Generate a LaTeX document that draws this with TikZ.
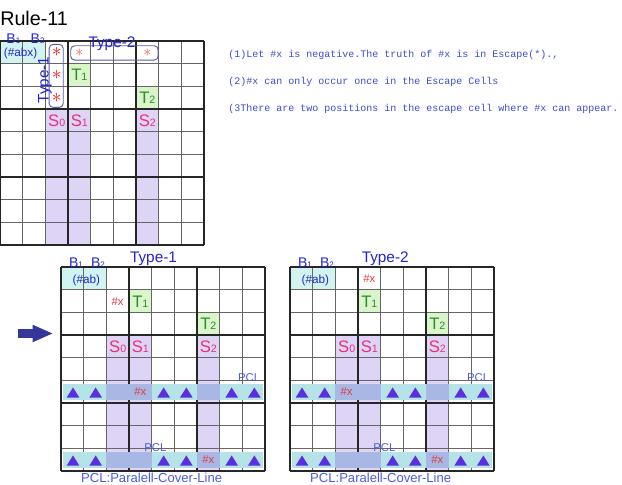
\documentclass[tikz,border=0pt]{standalone}
\usepackage{fontspec}
\setmainfont{Liberation Sans}
\newfontfamily\monofont{Liberation Mono}
\usetikzlibrary{arrows.meta}

\definecolor{bcyan}{HTML}{D2F4F0}
\definecolor{tgreen}{HTML}{D8F6CA}
\definecolor{tgreentext}{HTML}{2E8B2E}
\definecolor{spurple}{HTML}{DED4F5}
\definecolor{spink}{HTML}{E8317A}
\definecolor{bandcyan}{HTML}{B6E3E7}
\definecolor{bandblue}{HTML}{A8B7E4}
\definecolor{trviolet}{HTML}{5B2FE0}
\definecolor{xred}{HTML}{E03C3C}
\definecolor{pclblue}{HTML}{4A5CE0}
\definecolor{typeblue}{HTML}{2424D0}
\definecolor{boxblue}{HTML}{5A5AA8}
\definecolor{ruleblue}{HTML}{3A4CD0}
\definecolor{arrowblue}{HTML}{35359B}
\definecolor{starred}{HTML}{FF1010}
\definecolor{starpink}{HTML}{F05A5A}

\tikzset{
  cellgrid/.style={black!60, line width=0.75pt},
  blockgrid/.style={black!85, line width=1.4pt},
  bcell/.style={fill=bcyan},
  tcell/.style={fill=tgreen},
  scol/.style={fill=spurple},
  pclband/.style={fill=bandcyan},
  pclover/.style={fill=bandblue},
  tri/.style={fill=trviolet},
  slab/.style={text=spink, inner sep=0pt, font=\fontsize{12.5}{13}\selectfont},
  tlab/.style={text=tgreentext, inner sep=0pt, font=\fontsize{12.5}{13}\selectfont},
  blab/.style={text=typeblue, inner sep=0pt, font=\fontsize{10.5}{11}\selectfont},
  ablab/.style={text=typeblue, inner sep=0pt, font=\fontsize{8.8}{9}\selectfont},
  xlab/.style={text=xred, inner sep=0pt, font=\fontsize{8.5}{9}\selectfont},
  pcllab/.style={text=pclblue, inner sep=0pt, font=\fontsize{8.5}{9}\selectfont},
  pclnote/.style={text=pclblue, inner sep=0pt, font=\fontsize{9.8}{10}\selectfont},
  typelab/.style={text=typeblue, inner sep=0pt, font=\fontsize{11.5}{12}\selectfont},
  typebox/.style={draw=boxblue, rounded corners=3pt, line width=0.7pt},
  redstar/.style={text=starred, inner sep=0pt, font=\fontsize{14}{14}\selectfont},
  pinkstar/.style={text=starpink, inner sep=0pt, font=\fontsize{13}{13}\selectfont},
  ruletext/.style={anchor=west, inner sep=0pt, text=ruleblue, font=\monofont\fontsize{7.5}{8}\selectfont},
  bigarrow/.style={arrowblue, line width=6.2pt, -{Triangle[length=15.5pt, width=11.8pt]}}
}

% letter with a small index
\newcommand{\idx}[3]{#1{\fontsize{#3}{#3}\selectfont #2}}

% 9x9 grid, blocks of 3
\newcommand{\drawgrid}{%
  \foreach \k in {0,...,9} {
    \draw[cellgrid] (\k,0) -- (\k,9);
    \draw[cellgrid] (0,\k) -- (9,\k);
  }
  \foreach \k in {0,3,6,9} {
    \draw[blockgrid] (\k,0) -- (\k,9);
    \draw[blockgrid] (0,\k) -- (9,\k);
  }
}

% lower grids: cells, lines, PCL bands and labels
\newcommand{\pclgrid}[1]{%
  \fill[bcell] (0,0) rectangle (2,1);
  \fill[tcell] (3,1) rectangle (4,2);
  \fill[tcell] (6,2) rectangle (7,3);
  \fill[scol] (2,3) rectangle (4,9);
  \fill[scol] (6,3) rectangle (7,9);
  \drawgrid
  \foreach \r in {5,8} {
    \fill[pclband] (0.08,\r+0.16) rectangle (8.92,\r+0.84);
    \fill[pclover] (2,\r+0.16) rectangle (4,\r+0.84);
    \fill[pclover] (6,\r+0.16) rectangle (7,\r+0.84);
    \foreach \c in {0,1,4,5,7,8}
      \fill[tri] (\c+0.25,\r+0.75) -- (\c+0.81,\r+0.75) -- (\c+0.53,\r+0.3) -- cycle;
  }
  \node[blab] (#1B1) at (0.66,-0.19) {\idx{B}{1}{6}};
  \node[blab] (#1B2) at (1.63,-0.19) {\idx{B}{2}{6}};
  \node[ablab] (#1ab) at (1.12,0.6) {(\#ab)};
  \node[tlab] (#1T1) at (3.5,1.5) {\idx{T}{1}{8}};
  \node[tlab] (#1T2) at (6.5,2.5) {\idx{T}{2}{8}};
  \node[slab] (#1S0) at (2.5,3.5) {\idx{S}{0}{8}};
  \node[slab] (#1S1) at (3.5,3.5) {\idx{S}{1}{8}};
  \node[slab] (#1S2) at (6.5,3.5) {\idx{S}{2}{8}};
  \node[pcllab] (#1pclA) at (8.3,4.88) {PCL};
  \node[pcllab] (#1pclB) at (4.16,7.94) {PCL};
  \node[pclnote] (#1note) at (4,9.31) {PCL:Paralell-Cover-Line};
}

\begin{document}
\begin{tikzpicture}[x=0.75pt, y=-0.75pt]
  \useasboundingbox (0,0) rectangle (622,485);

  % Titre et regles
  \node[anchor=west, inner sep=0pt, font=\fontsize{14.8}{16}\selectfont] (title) at (0,18) {Rule-11};
  \node[ruletext] (rule1) at (228,55) {(1)Let \#x is negative.The truth of \#x is in Escape(*).,};
  \node[ruletext] (rule2) at (228,82.3) {(2)\#x can only occur once in the Escape Cells};
  \node[ruletext] (rule3) at (228,109.3) {(3There are two positions in the escape cell where \#x can appear.};

  % Grille du haut
  \begin{scope}[shift={(0,41)}, x=17pt, y=-17pt]
    \fill[bcell] (0,0) rectangle (2,1);
    \fill[tcell] (3,1) rectangle (4,2);
    \fill[tcell] (6,2) rectangle (7,3);
    \fill[scol] (2,3) rectangle (4,9);
    \fill[scol] (6,3) rectangle (7,9);
    \drawgrid
    \node[blab] (tB1) at (0.59,-0.09) {\idx{B}{1}{6}};
    \node[blab] (tB2) at (1.66,-0.09) {\idx{B}{2}{6}};
    \node[ablab] (tabx) at (0.91,0.57) {(\#abx)};
    \node[tlab] (tT1) at (3.5,1.5) {\idx{T}{1}{8}};
    \node[tlab] (tT2) at (6.5,2.5) {\idx{T}{2}{8}};
    \node[slab] (tS0) at (2.5,3.5) {\idx{S}{0}{8}};
    \node[slab] (tS1) at (3.5,3.5) {\idx{S}{1}{8}};
    \node[slab] (tS2) at (6.5,3.5) {\idx{S}{2}{8}};
    % Cases d'echappement (*)
    \foreach \r in {0,1,2}
      \node[redstar] (tstar\r) at (2.5,\r+0.5) {$\ast$};
    \node[pinkstar] (tstarL) at (3.5,0.5) {$\ast$};
    \node[pinkstar] (tstarR) at (6.5,0.5) {$\ast$};
    \draw[typebox] (2.17,0.15) rectangle (2.79,2.93);
    \draw[typebox] (3.12,0.21) rectangle (6.98,0.84);
    \node[typelab, rotate=90] (tType1) at (1.98,1.72) {Type-1};
    \node[typelab] (tType2) at (4.94,0.1) {Type-2};
  \end{scope}

  % Fleche
  \coordinate (arrS) at (18.3,333.5);
  \coordinate (arrE) at (53.3,333.5);
  \draw[bigarrow] (arrS) -- (arrE);

  % Grille Type-1
  \begin{scope}[shift={(61,267.3)}, x=17pt, y=-17pt]
    \pclgrid{L}
    \node[xlab] (Lx0) at (2.5,1.5) {\#x};
    \node[xlab] (Lx5) at (3.5,5.5) {\#x};
    \node[xlab] (Lx8) at (6.5,8.5) {\#x};
    \node[typelab] (LType) at (4.08,-0.36) {Type-1};
  \end{scope}

  % Grille Type-2
  \begin{scope}[shift={(290,267.3)}, x=17pt, y=-17pt]
    \pclgrid{R}
    \node[xlab] (Rx0) at (3.5,0.5) {\#x};
    \node[xlab] (Rx5) at (2.5,5.5) {\#x};
    \node[xlab] (Rx8) at (6.5,8.5) {\#x};
    \node[typelab] (RType) at (4.2,-0.36) {Type-2};
  \end{scope}
\end{tikzpicture}
\end{document}
